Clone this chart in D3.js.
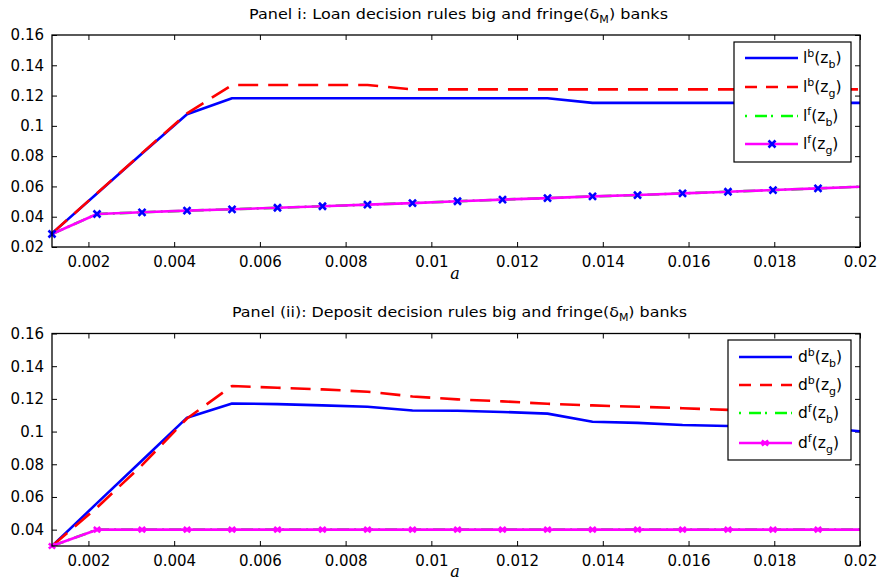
<!DOCTYPE html>
<html><head><meta charset="utf-8">
<script src="https://cdn.jsdelivr.net/npm/d3@7"></script>
<style>body{margin:0;background:#fff}svg{display:block}</style>
</head><body>
<svg id="chart" width="879" height="583"></svg>
<script>
// ---------- data ----------
const aGrid = [0.00115,0.00220,0.00325,0.00430,0.00535,0.00641,0.00746,0.00851,0.00956,0.01061,0.01166,0.01271,0.01376,0.01481,0.01586,0.01692,0.01797,0.01902,0.02007];

const loanBigZb   = [0.029,0.0553,0.0817,0.1076,0.1182,0.1182,0.1182,0.1182,0.1182,0.1182,0.1182,0.1182,0.1152,0.1152,0.1152,0.1152,0.1152,0.1152,0.1152];
const loanBigZg   = [0.029,0.0555,0.0820,0.1082,0.1270,0.1270,0.1270,0.1270,0.1241,0.1241,0.1241,0.1241,0.1241,0.1241,0.1241,0.1241,0.1241,0.1241,0.1241];
const loanFrZb    = [0.0286,0.0418,0.0429,0.0440,0.0449,0.0459,0.0469,0.0480,0.0490,0.0502,0.0513,0.0523,0.0534,0.0543,0.0554,0.0565,0.0576,0.0587,0.0599];
const loanFrZg    = [0.0286,0.0418,0.0429,0.0440,0.0449,0.0459,0.0469,0.0480,0.0490,0.0502,0.0513,0.0523,0.0534,0.0543,0.0554,0.0565,0.0576,0.0587,0.0599];

const depBigZb    = [0.030,0.0562,0.0823,0.1085,0.1172,0.1168,0.1160,0.1152,0.1129,0.1127,0.1120,0.1110,0.1060,0.1053,0.1040,0.1034,0.1030,0.1025,0.1000];
const depBigZg    = [0.030,0.0535,0.0795,0.1080,0.1279,0.1268,0.1258,0.1244,0.1215,0.1197,0.1185,0.1170,0.1160,0.1152,0.1143,0.1133,0.1125,0.1115,0.1103];
const depFrZb     = [0.030,0.040,0.040,0.040,0.040,0.040,0.040,0.040,0.040,0.040,0.040,0.040,0.040,0.040,0.040,0.040,0.040,0.040,0.040];
const depFrZg     = [0.030,0.040,0.040,0.040,0.040,0.040,0.040,0.040,0.040,0.040,0.040,0.040,0.040,0.040,0.040,0.040,0.040,0.040,0.040];

const xTicks      = [0.002,0.004,0.006,0.008,0.010,0.012,0.014,0.016,0.018,0.020];
const xTickLabels = ["0.002","0.004","0.006","0.008","0.01","0.012","0.014","0.016","0.018","0.02"];
const yTicksTop   = [0.02,0.04,0.06,0.08,0.10,0.12,0.14,0.16];
const yLabelsTop  = ["0.02","0.04","0.06","0.08","0.1","0.12","0.14","0.16"];
const yTicksBot   = [0.04,0.06,0.08,0.10,0.12,0.14,0.16];
const yLabelsBot  = ["0.04","0.06","0.08","0.1","0.12","0.14","0.16"];

const xDomain = [0.00115, 0.02];
const yDomainTop = [0.02, 0.16];
const yDomainBot = [0.03, 0.16];

// ---------- drawing ----------
const svg = d3.select("#chart");
const FONT = "DejaVu Sans, Arial, sans-serif";

const styles = [
  {color:"#0000ff", dash:null, marker:null},
  {color:"#ff0000", dash:"20,10", marker:null},
  {color:"#00ff00", dash:"12,5,2,5", marker:null},
  {color:"#ff00ff", dash:null, marker:true}
];

function drawPanel(cfg){
  const {left,right,top,bottom} = cfg;
  const g = svg.append("g");
  const x = d3.scaleLinear().domain(xDomain).range([left,right]);
  const y = d3.scaleLinear().domain(cfg.yDomain).range([bottom,top]);

  const clipId = "clip"+cfg.id;
  svg.append("clipPath").attr("id",clipId).append("rect")
    .attr("x",left).attr("y",top).attr("width",right-left).attr("height",bottom-top);

  // axes with inward ticks on all four sides
  const ax = g.append("g").attr("transform",`translate(0,${bottom})`)
    .call(d3.axisBottom(x).tickValues(xTicks).tickFormat((d,i)=>xTickLabels[i]).tickSizeInner(-5).tickSizeOuter(0).tickPadding(9));
  const axT = g.append("g").attr("transform",`translate(0,${top})`)
    .call(d3.axisTop(x).tickValues(xTicks).tickFormat("").tickSizeInner(-5).tickSizeOuter(0));
  const ay = g.append("g").attr("transform",`translate(${left},0)`)
    .call(d3.axisLeft(y).tickValues(cfg.yTicks).tickFormat((d,i)=>cfg.yLabels[i]).tickSizeInner(-5).tickSizeOuter(0).tickPadding(8));
  const ayR = g.append("g").attr("transform",`translate(${right},0)`)
    .call(d3.axisRight(y).tickValues(cfg.yTicks).tickFormat("").tickSizeInner(-5).tickSizeOuter(0));
  [ax,axT,ay,ayR].forEach(a=>{
    a.select(".domain").remove();
    a.selectAll("line").attr("stroke","#000").attr("stroke-width",1);
    a.selectAll("text").attr("font-family",FONT).attr("font-size",15).attr("fill","#000");
  });
  ax.selectAll("text").attr("dy","0.71em");

  const plot = g.append("g").attr("clip-path",`url(#${clipId})`);
  const markG = g.append("g");
  const line = d3.line().x((d,i)=>x(aGrid[i])).y(d=>y(d));
  cfg.series.forEach((s,k)=>{
    const st = styles[k];
    plot.append("path").datum(s).attr("d",line)
      .attr("fill","none").attr("stroke",st.color).attr("stroke-width",2.6)
      .attr("stroke-dasharray",st.dash).attr("stroke-linejoin","round");
    if(st.marker){
      s.forEach((v,i)=>{
        if(aGrid[i] > xDomain[1]) return;
        const cx = x(aGrid[i]), cy = y(v), r = cfg.markerSize, a = cfg.markerAspect;
        markG.append("path")
          .attr("d",`M${cx-r},${cy-r*a}L${cx+r},${cy+r*a}M${cx-r},${cy+r*a}L${cx+r},${cy-r*a}`)
          .attr("stroke",cfg.markerColor).attr("stroke-width",2.6).attr("fill","none");
      });
    }
  });

  // box
  g.append("rect").attr("x",left).attr("y",top).attr("width",right-left).attr("height",bottom-top)
    .attr("fill","none").attr("stroke","#000").attr("stroke-width",1.3);

  // title
  const t = g.append("text").attr("x",cfg.titleX).attr("y",cfg.titleY)
    .attr("font-family",FONT).attr("font-size",14.5).attr("fill","#000")
    .attr("textLength",cfg.titleLen).attr("lengthAdjust","spacingAndGlyphs");
  t.append("tspan").text(cfg.titlePre);
  t.append("tspan").attr("font-size",10).attr("dy",4).text("M");
  t.append("tspan").attr("dy",-4).text(") banks");

  // x label
  g.append("text").attr("x",(left+right)/2-1).attr("y",cfg.xLabelY).attr("text-anchor","middle")
    .attr("font-family","DejaVu Serif, Liberation Serif, serif").attr("font-style","italic")
    .attr("font-size",16).attr("fill","#000").text("a");

  // legend
  const L = cfg.legend;
  const lg = g.append("g");
  lg.append("rect").attr("x",L.x0).attr("y",L.y0).attr("width",L.x1-L.x0).attr("height",L.y1-L.y0)
    .attr("fill","#fff").attr("stroke","#000").attr("stroke-width",1.2);
  L.labels.forEach((lab,k)=>{
    const st = styles[k];
    const yy = L.rows[k];
    lg.append("line").attr("x1",L.s0).attr("x2",L.s1).attr("y1",yy).attr("y2",yy)
      .attr("stroke",st.color).attr("stroke-width",2.6)
      .attr("stroke-dasharray",k===1?"12,9":(k===2?"2,8,12,4":null));
    if(st.marker){
      const cx = L.mx, r = cfg.markerSize, a = cfg.markerAspect;
      lg.append("path").attr("d",`M${cx-r},${yy-r*a}L${cx+r},${yy+r*a}M${cx-r},${yy+r*a}L${cx+r},${yy-r*a}`)
        .attr("stroke",cfg.markerColor).attr("stroke-width",2.6);
    }
    const tx = lg.append("text").attr("x",L.tx).attr("y",yy+5)
      .attr("font-family",FONT).attr("font-size",15.5).attr("fill","#000");
    tx.append("tspan").text(lab[0]);
    tx.append("tspan").attr("font-size",11).attr("dy",-6).text(lab[1]);
    tx.append("tspan").attr("dy",6).text("(z");
    tx.append("tspan").attr("font-size",11).attr("dy",5).text(lab[2]);
    tx.append("tspan").attr("dy",-5).text(")");
  });
}

drawPanel({
  id:1, left:52, right:860, top:35, bottom:247, yDomain:yDomainTop,
  yTicks:yTicksTop, yLabels:yLabelsTop,
  series:[loanBigZb, loanBigZg, loanFrZb, loanFrZg],
  markerColor:"#0000ff", markerSize:3.5, markerAspect:1,
  titleX:249, titleLen:419,
  titleY:19, titlePre:"Panel i: Loan decision rules big and fringe(\u03b4", xLabelY:279,
  legend:{x0:734,x1:851,y0:42,y1:162,rows:[58,87,116,144],s0:745,s1:798,mx:772,tx:803,
    labels:[["l","b","b"],["l","b","g"],["l","f","b"],["l","f","g"]]}
});

drawPanel({
  id:2, left:52, right:860, top:333.5, bottom:546, yDomain:yDomainBot,
  yTicks:yTicksBot, yLabels:yLabelsBot,
  series:[depBigZb, depBigZg, depFrZb, depFrZg],
  markerColor:"#ff00ff", markerSize:3.2, markerAspect:0.8,
  titleX:232, titleLen:455,
  titleY:317, titlePre:"Panel (ii): Deposit decision rules big and fringe(\u03b4", xLabelY:577,
  legend:{x0:728,x1:851,y0:340,y1:460,rows:[357,385,413,443],s0:739,s1:792,mx:765,tx:798,
    labels:[["d","b","b"],["d","b","g"],["d","f","b"],["d","f","g"]]}
});
</script>
</body></html>
